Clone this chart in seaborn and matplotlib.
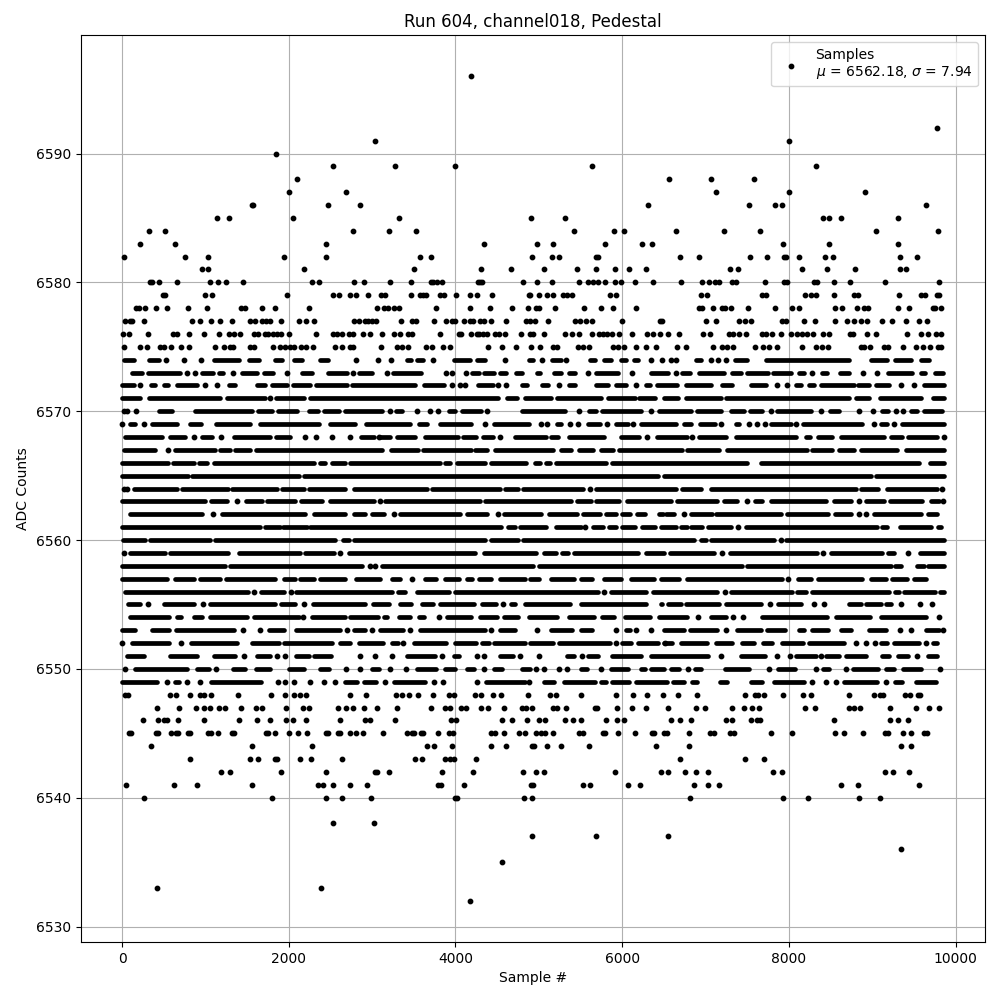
import pandas as pd
import matplotlib
matplotlib.use('Agg')
import matplotlib.pyplot as plt
import seaborn as sns

# each row holds the samples read at one ADC level:
# a number is one sample, a (start, stop) pair is a stretch where the dots touch
r6596 = [4190]
r6592 = [9780]
r6591 = [3032, 8004]
r6590 = [1844]
r6589 = [2528, 3272, 3992, 5640, 8328]
r6588 = [2096, 6564, 7068, 7584]
r6587 = [2000, 2684, 7128, 8004, 8916]
r6586 = [1556, 1572, 2468, 2852, 6312, 7524, 7836, 7920, 9648]
r6585 = [1136, 1280, 2048, 3320, 4904, 5316, 8412, 8484, 8628, 9312]
r6584 = [320, 512, 2768, 3200, 3524, 5424, 5904, 6024, 6648, 7224, 7656, 9048, 9792]
r6583 = [212, 632, 2444, 4340, 4976, 5172, 5796, 6240, 6360, 7932, 8484, 9312]
r6582 = [20, 752, 1028, 1940, 2444, 3572, 3704, 4916, 5160, 5244, 5688, 5712, 6696, 6924, 7536, 7740, 7944, 7968, 8124, 8436, 8532, 9336, 9540]
r6581 = [956, 1028, 2180, 3500, 4304, 4664, 5064, 5460, 5688, 5916, 6084, 6288, 7296, 7392, 8160, 8460, 8796, 9336, 9408]
r6580 = [332, 356, 440, 656, 1052, 1148, 1244, 1448, 2276, 2360, 2780, 2900, 3212, 3464, 3704, 3728, 3776, 3836, 4268, 4292, 4316, 4808, 4980, 5160, 5484, 5592, 5652, 5712, 5796, 5916, 5988, 6156, 6372, 6708, 6960, 7044, 7116, 7164, 7320, 7368, 7716, 7944, 7980, 8304, 8340, 8544, 8736, 9156, 9796]
r6579 = [488, 512, 992, 1076, 1976, 2528, 2600, 2732, 2804, 2948, 3104, 3152, 3464, 3572, 3608, 3644, 3812, 3860, 4004, 4172, 4256, 4436, 4880, 4900, 5004, 5100, 5172, 5292, 5340, 5400, 5856, 5928, 6948, 7020, 7680, 7728, 8196, 8268, 8328, 8544, 8784, 8832, 9324, 9588, 9636, 9780, 9804]
r6578 = [164, 200, 272, 404, 536, 788, 1016, 1424, 1472, 1676, 1832, 2240, 3056, 3140, 3188, 3260, 3320, 3764, 4172, 4412, 4676, 4868, 4964, 5004, 5196, 5544, 5748, 5892, 6168, 6924, 6960, 7092, 7200, 7236, 7308, 7512, 7836, 8040, 8124, 8556, 8640, 8820, 8904, 8952, 9312, 9444, 9732, 9756, 9828]
r6577 = [32, 92, 116, 260, 836, 932, 1064, 1172, 1316, 1532, 1592, 1676, 1724, 1772, 1904, 2120, 2204, 2300, 2780, 2840, 2912, 2948, 2996, 3044, 3344, 3476, 3524, 3740, 3884, 3956, 3992, 4100, 4172, 4208, 4292, 4340, 4424, 4604, 4844, 4892, 4952, 5112, 5436, 5496, 5568, 5640, 6000, 6456, 6480, 7008, 7128, 7404, 7476, 7548, 7920, 7968, 8184, 8316, 8556, 8700, 8784, 8868, 8940, 9120, 9240, 9408, 9564, 9660]
r6576 = [8, 80, 308, 608, 656, 800, 980, 1160, 1280, 1340, 1412, 1580, 1628, 1712, 1748, 1808, 1856, 1904, 2000, 2324, 2528, 2576, 2636, 2720, 2768, 2888, 2972, 3116, 3260, 3332, 3428, 3476, 3812, 4040, 4064, 4184, 4256, 4280, 4328, 4376, 4472, 4520, 4592, 4784, 4892, 4932, 5064, 5316, 5400, 5484, 5640, 5724, 5772, 5820, 5880, 5964, 6120, 6300, 6372, 6456, 6552, 6684, 6972, 7056, 7284, 7332, 7404, 7488, 7680, 7728, 7800, 7908, 8028, 8100, 8160, 8220, 8292, 8412, 8484, 8736, 8772, 8940, 9048, 9420, 9588, 9672, 9768, 9828]
r6575 = [20, 212, 296, 452, 500, 584, 704, 800, 1112, 1220, 1292, 1328, 1532, 1580, 1808, 1892, 1952, 2012, 2060, 2144, 2204, 2288, 2552, 2636, 2732, 2768, 3104, 3296, 3356, 3428, 3644, 3716, 3848, 3932, 4388, 4556, 4724, 4904, 5016, 5172, 5220, 5472, 5532, 5604, 5892, 5952, 6024, 6168, 6288, 6408, 6660, 6768, 7092, 7200, 7260, 7332, 7596, 7692, 7764, 7860, 8160, 8328, 8400, 8472, 8868, 8904, 8976, 9144, 9192, 9372, 9528, 9612, 9696, 9792, 9828]
r6574 = [(20, 140), (320, 440), 530, 740, 950, (1100, 1400), (1520, 1640), (1840, 1920), (2060, 2160), (2370, 2470), 2810, 3070, 3230, (3420, 3470), (3540, 3610), 3730, (3980, 4170), (4260, 4350), 4600, (4880, 4930), 5040, (5160, 5270), 5330, (5616, 5668), (5780, 5870), (5980, 6050), (6140, 6190), 6350, 6480, 6590, 6650, (6880, 6940), 7060, 7150, 7240, (7350, 7500), (7720, 8720), (8990, 9180), (9270, 9460), (9590, 9680)]
r6573 = [(116, 236), (308, 696), 780, 872, (964, 1096), (1164, 1216), 1332, (1444, 1616), (1704, 1816), 1980, (2164, 2284), (2472, 2696), 2768, (2844, 2996), 3180, (3256, 3588), 3884, 3964, 4132, (4196, 4280), (4348, 4460), (4536, 4608), (4728, 4796), (4976, 5016), (5176, 5268), (5356, 5428), 5592, (5684, 5948), 6120, (6348, 6552), 6644, (6720, 6816), (6924, 7216), (7320, 7424), (7492, 7744), (7812, 8024), (8120, 8176), 8280, (8392, 8452), (8608, 8724), 8888, 9056, (9184, 9472), (9580, 9636), (9752, 9844)]
r6572 = [(0, 140), 220, (350, 400), (500, 550), (660, 900), 1000, 1140, (1280, 1360), (1620, 1720), (1800, 1980), (2050, 2260), (2330, 2700), (2760, 3520), (3620, 3860), 3960, 4050, 4120, (4270, 4450), 4510, 4610, (4800, 4860), (5040, 5110), 5240, (5360, 5430), (5680, 5830), (5920, 6050), 6160, (6280, 6330), (6420, 6660), (6770, 7060), (7200, 7320), (7550, 7720), 7860, 7980, (8090, 8150), (8240, 8300), (8380, 8780), (8830, 8960), (9040, 9200), 9340, 9500, (9620, 9860)]
r6571 = [(0, 220), (320, 1180), (1260, 1720), 1780, (1850, 2180), (2260, 4510), (4620, 4740), (4840, 5140), (5220, 5750), (5830, 6150), (6200, 6390), (6500, 6670), (6760, 7180), (7250, 8720), (8800, 8960), (9090, 9580), (9730, 9860)]
r6570 = [20, 60, 170, (440, 600), (870, 1560), (1630, 1800), (1870, 2100), (2240, 2350), (2420, 2600), (2680, 3120), 3220, (3290, 3360), 3540, 3690, 3790, (3920, 4000), (4080, 4310), 4380, (4800, 5310), 5480, (5600, 5690), (5760, 6220), 6350, (6440, 6830), (6900, 7180), (7300, 7460), (7530, 7680), 7780, (7860, 8270), 8380, (8490, 8600), 8840, 9010, (9120, 9190), 9290, 9370, (9470, 9540), (9620, 9840)]
r6569 = [0, (100, 160), 260, (360, 660), (810, 950), (1130, 1540), (1650, 2360), (2490, 2800), (2930, 3450), (3560, 3660), (3820, 4190), 4360, (4460, 4880), 5020, 5100, (5220, 5270), 5370, 5470, (5590, 5730), 5820, (5920, 6070), 6130, (6230, 6640), (6740, 6820), (6930, 7110), 7180, (7360, 7400), 7520, 7620, 7710, (7790, 8020), 8090, (8170, 8880), 9020, (9110, 9180), 9260, (9360, 9860)]
r6568 = [(40, 480), (580, 760), 860, (960, 1080), 1190, (1340, 1780), (1850, 2020), 2200, 2330, 2520, 2740, (2870, 3020), 3080, (3100, 3210), (3300, 3510), (3640, 4030), (4090, 4250), (4330, 4450), 4540, (4720, 5080), (5150, 5230), (5360, 5780), (5980, 6200), 6300, (6420, 6780), 6840, (6920, 7240), (7370, 8080), (8200, 8250), (8350, 8520), (8630, 9140), (9230, 9360), (9430, 9780), 9860]
r6567 = [(20, 400), 550, (640, 1120), (1180, 1290), (1360, 1540), (1610, 3120), (3230, 3550), (3610, 4190), (4240, 4380), (4480, 5170), (5270, 5390), (5480, 5650), (5750, 5890), (5960, 6720), (6780, 7160), (7260, 8220), (8280, 8520), (8600, 8780), (8870, 9300), (9410, 9860)]
r6566 = [(0, 550), (610, 860), (920, 1020), (1100, 2300), (2370, 2440), (2520, 2680), (2730, 3810), (3880, 3940), (4020, 4350), (4430, 4850), (4950, 5010), (5080, 5130), (5200, 5810), (5880, 7500), (7660, 9560), (9690, 9860)]
r6565 = [(0, 790), (840, 2120), (2180, 6430), (6500, 8980), (9050, 9860)]
r6564 = [20, 60, (140, 660), (720, 1270), (1320, 1860), (1920, 2180), (2240, 2680), (2780, 3660), (3720, 4540), (4600, 4750), (4810, 5530), 5610, (5680, 6640), (6720, 6940), (7070, 8800), (8860, 9070), (9180, 9780), 9840]
r6563 = [(0, 990), (1070, 1260), 1380, (1490, 1680), (1740, 2080), (2150, 2400), (2500, 3020), 3100, (3160, 4290), (4360, 5380), (5460, 5620), (5680, 5960), (6060, 6590), (6660, 7140), (7220, 7380), 7500, (7590, 7680), (7780, 8450), (8540, 8740), 8840, (8920, 9140), (9210, 9600), (9700, 9800), 9850]
r6562 = [(100, 960), 1090, (1200, 2190), (2300, 2680), (2780, 2920), (3000, 3140), 3260, (3340, 4060), (4140, 4380), 4510, (4580, 5030), (5120, 5460), (5530, 5730), (5800, 5930), (6000, 6090), (6180, 6270), (6440, 6490), (6520, 6620), 6740, (6830, 7080), (7130, 7900), (7980, 8470), (8550, 8740), 8840, 8920, (9020, 9580), (9670, 9780)]
r6561 = [(0, 1660), (1720, 1900), (1930, 2220), (2260, 4550), (4630, 4710), (4780, 5080), (5200, 5510), 5550, (5650, 5770), (5840, 5930), (6000, 6150), (6240, 6390), (6460, 6640), (6710, 6780), (6830, 6960), (7030, 7300), 7390, (7480, 9060), (9120, 9180), (9330, 9710), (9790, 9830)]
r6560 = [(10, 270), (340, 1060), (1120, 2560), (2650, 2720), (2780, 4350), (4430, 4750), (4810, 6860), (6940, 7000), (7060, 7820), 7900, (7970, 9860)]
r6559 = [20, (90, 510), (570, 1270), (1400, 2130), (2200, 2540), 2620, (2720, 4240), (4340, 4970), (5060, 5210), (5280, 5350), (5420, 6190), (6290, 6500), (6570, 7100), 7200, (7290, 8340), 8410, (8510, 9120), (9190, 9260), 9430, (9570, 9860)]
r6558 = [(0, 1230), (1300, 2880), 2970, 3040, (3120, 4930), (5000, 7440), (7500, 9220), (9270, 9350), (9540, 9620), (9670, 9860)]
r6557 = [(0, 540), (640, 860), (940, 1180), (1250, 1840), (1940, 2080), (2140, 2300), (2370, 2670), (2810, 3100), (3240, 3330), 3480, (3640, 3770), (3880, 4040), (4140, 4200), (4280, 4430), (4540, 4830), (4900, 5000), (5140, 5420), (5510, 5640), (5780, 5980), (6100, 6380), (6460, 6680), (6780, 7920), 7990, (8110, 8260), (8350, 8880), (8990, 9160), (9240, 9420), (9500, 9650)]
r6556 = [(40, 1510), 1580, (1670, 1940), 2030, (2090, 3240), (3310, 3400), (3540, 3920), (4000, 5710), 5780, (5860, 6290), (6370, 7140), 7230, (7310, 8040), (8100, 8210), (8280, 9200), (9270, 9320), (9380, 9750), (9810, 9860)]
r6555 = [(70, 220), 310, (500, 860), 970, (1060, 1830), (1910, 2080), 2180, (2290, 2910), (3010, 3200), (3340, 3470), (3600, 3730), (3820, 4220), (4320, 4490), 4570, (4670, 4720), (4840, 5370), (5500, 6290), (6460, 6480), (6550, 6700), (6770, 7160), (7250, 7660), 7770, (7870, 8150), 8300, 8420, (8720, 8860), (8930, 9100), (9170, 9220), 9340, 9570, 9720]
r6554 = [(100, 560), (660, 710), (860, 960), (1060, 1500), (1580, 2120), 2170, (2280, 2680), (2740, 3070), (3140, 3180), (3320, 3460), (3560, 3620), 3800, (3900, 4190), (4300, 4500), (4580, 4750), (4880, 5220), (5360, 5660), (5760, 5900), (6030, 6330), (6440, 6780), 6910, (7060, 7240), 7330, 7450, (7680, 8460), (8570, 8970), (9110, 9640), 9800]
r6553 = [(0, 160), (360, 560), (650, 1340), 1450, 1650, (1760, 1940), (2090, 2620), 2700, (2780, 2920), 3000, (3100, 3370), 3450, (3580, 4360), 4430, (4540, 4710), 4980, (5140, 5400), (5510, 5640), 5930, (6050, 6090), 6170, 6350, (6500, 6740), (6810, 7140), 7240, (7380, 7660), (7740, 7950), (8120, 8180), (8280, 8470), (8620, 8740), (8960, 9160), 9330, 9460, (9640, 9800), 9850]
r6552 = [0, (120, 560), 710, (830, 1380), (1560, 1880), (1940, 2520), (2610, 2740), (2840, 3130), (3240, 3310), 3370, (3500, 3890), (4000, 4250), (4320, 4400), (4460, 4830), (4900, 5170), (5240, 5850), 5920, (6000, 6110), (6190, 6430), 6510, (6500, 6600), (6710, 7020), (7130, 7320), (7440, 7580), (7690, 7800), (7920, 8170), (8240, 8660), 8810, 8920, 9030, (9110, 9180), (9260, 9560), 9650, (9730, 9780)]
r6551 = [(60, 260), (570, 900), (1100, 1360), 1460, (1620, 1780), 1860, 1960, (2090, 2240), (2300, 2510), 2850, 3040, 3240, (3420, 3750), 3840, (3980, 4040), 4260, 4340, (4540, 4690), 4780, 5000, (5340, 5420), 5520, (5590, 5710), (5880, 6230), (6350, 7030), 7180, (7420, 7710), 7860, 8010, (8090, 8320), 8390, (8450, 8600), (8680, 8920), (9120, 9200), (9310, 9430), 9540, (9670, 9780)]
r6550 = [30, (150, 780), (900, 1040), 1130, (1330, 1470), (1610, 1780), (2000, 2180), (2370, 2480), 2690, 2850, (3000, 3080), 3220, 3410, (3540, 3770), (3880, 3990), (4140, 4220), 4340, (4460, 4560), (4800, 4900), 4960, 5060, 5240, 5340, (5510, 5580), 5750, (5860, 6070), (6220, 6270), (6350, 6500), (6590, 6680), 6790, (6870, 6940), (7230, 7520), 7760, (7870, 8070), 8330, (8410, 8480), 8680, (8770, 9070), (9170, 9260), (9370, 9590), 9810]
r6549 = [(0, 420), 540, (630, 680), 780, 940, (1070, 1670), 1870, 1950, 2060, 2250, 2420, 2560, (2670, 2820), (2900, 3050), 3160, (3260, 3630), 3740, 3850, 4260, (4370, 4830), 4880, (5060, 5180), (5300, 5670), (5740, 5800), (5880, 6080), (6160, 6540), (6610, 6740), (6840, 6900), (7170, 7260), (7540, 7680), (7820, 8180), 8280, 8440, 8570, (8660, 9060), 9170, (9270, 9360), (9520, 9770)]
r6548 = [32, 68, 572, 644, 812, 932, 980, 1064, 1388, 1784, 1952, 2060, 2132, 2204, 2732, 2924, 3284, 3356, 3440, 3548, 3728, 3920, 3980, 4232, 4304, 4448, 4544, 4868, 5136, 5208, 5508, 5928, 6132, 6300, 6492, 6672, 6900, 7476, 7596, 7632, 7704, 7932, 8172, 8268, 8724, 9024, 9096, 9132, 9396, 9456, 9552, 9576]
r6547 = [416, 680, 884, 980, 1052, 1160, 1232, 1424, 1604, 1676, 1964, 2168, 2240, 2588, 2684, 2768, 2900, 3056, 3296, 3704, 3872, 3932, 4064, 4124, 4304, 4388, 4580, 4796, 4844, 4916, 5172, 5220, 5328, 5676, 5700, 5940, 6120, 6288, 6552, 6888, 6996, 7320, 7464, 7560, 7644, 8196, 8316, 8724, 8784, 8856, 9216, 9528, 9684, 9804]
r6546 = [248, 428, 500, 536, 668, 980, 1400, 1616, 1772, 1964, 2048, 2204, 2612, 2912, 2972, 3272, 3944, 4004, 4556, 4676, 4856, 5000, 5076, 5316, 5412, 5508, 5808, 5940, 6024, 6588, 6696, 6828, 7248, 7320, 7548, 7620, 7656, 8544, 9216, 9312, 9432]
r6545 = [80, 104, 404, 428, 584, 644, 668, 788, 812, 1028, 1064, 1148, 1316, 1340, 1724, 1748, 1832, 2000, 2108, 2216, 2444, 2468, 2588, 2612, 2732, 2804, 2888, 3128, 3416, 3476, 3500, 3584, 3608, 3788, 3920, 3968, 4424, 4472, 4580, 4760, 4832, 4968, 5028, 5076, 5172, 5484, 5532, 5772, 5796, 5952, 6156, 6360, 6384, 6504, 6540, 6804, 7056, 7104, 7296, 7344, 7788, 8040, 8556, 8664, 8892, 9156, 9192, 9372, 9468, 9624, 9660]
r6544 = [344, 1556, 2276, 3656, 3740, 3956, 4424, 4604, 4916, 4940, 5100, 5268, 5604, 6408, 6804, 9348, 9468]
r6543 = [812, 1532, 1628, 1832, 1856, 2132, 2264, 2636, 3512, 3596, 3872, 3932, 3980, 4244, 6696, 7476, 7704]
r6542 = [1184, 1292, 1904, 2444, 3032, 3056, 3200, 3836, 4208, 4808, 4964, 5064, 5916, 6468, 6552, 6756, 6888, 7032, 7812, 7920, 9156, 9252, 9444]
r6541 = [44, 620, 896, 1556, 2348, 2408, 2528, 2732, 2936, 3788, 3824, 4100, 4904, 4928, 5532, 5616, 6072, 6216, 6864, 7032, 7164, 8628, 8832, 9564]
r6540 = [260, 1796, 2444, 2636, 2984, 3996, 4020, 4820, 4916, 6816, 7932, 8232, 8844, 9096]
r6538 = [2528, 3020]
r6537 = [4916, 5688, 6552]
r6536 = [9348]
r6535 = [4556]
r6533 = [416, 2384]
r6532 = [4172]

levels = [6596, 6592, 6591, 6590, 6589, 6588, 6587, 6586, 6585, 6584, 6583, 6582, 6581, 6580, 6579,
          6578, 6577, 6576, 6575, 6574, 6573, 6572, 6571, 6570, 6569, 6568, 6567, 6566, 6565, 6564,
          6563, 6562, 6561, 6560, 6559, 6558, 6557, 6556, 6555, 6554, 6553, 6552, 6551, 6550, 6549,
          6548, 6547, 6546, 6545, 6544, 6543, 6542, 6541, 6540, 6538, 6537, 6536, 6535, 6533, 6532]
rows = [r6596, r6592, r6591, r6590, r6589, r6588, r6587, r6586, r6585, r6584, r6583, r6582, r6581, r6580, r6579,
        r6578, r6577, r6576, r6575, r6574, r6573, r6572, r6571, r6570, r6569, r6568, r6567, r6566, r6565, r6564,
        r6563, r6562, r6561, r6560, r6559, r6558, r6557, r6556, r6555, r6554, r6553, r6552, r6551, r6550, r6549,
        r6548, r6547, r6546, r6545, r6544, r6543, r6542, r6541, r6540, r6538, r6537, r6536, r6535, r6533, r6532]

mean_adc = 6562.18
std_adc = 7.94

# split single samples from the touching stretches
samples = []
stretches = []
for level, row in zip(levels, rows):
    for item in row:
        if isinstance(item, tuple):
            stretches.append({'level': level, 'start': item[0], 'stop': item[1]})
        else:
            samples.append({'sample': item, 'level': level})
df_samples = pd.DataFrame(samples)
df_stretches = pd.DataFrame(stretches)

fig, ax = plt.subplots(figsize=(10, 10), dpi=100)

label = f"Samples\n$\\mu$ = {mean_adc:.2f}, $\\sigma$ = {std_adc:.2f}"
sns.scatterplot(data=df_samples, x='sample', y='level', marker='.', color='k', s=40,
                edgecolor='k', linewidth=1, label=label, zorder=3, ax=ax)
ax.hlines(df_stretches['level'], df_stretches['start'], df_stretches['stop'], colors='k',
          linewidth=3.4, capstyle='round', zorder=3)

ax.set_title('Run 604, channel018, Pedestal')
ax.set_xlabel('Sample #')
ax.set_ylabel('ADC Counts')
ax.grid(True)
ax.legend(loc='upper right')

fig.subplots_adjust(left=0.081, right=0.985, top=0.965, bottom=0.058)
plt.savefig('out.png', dpi=100)
